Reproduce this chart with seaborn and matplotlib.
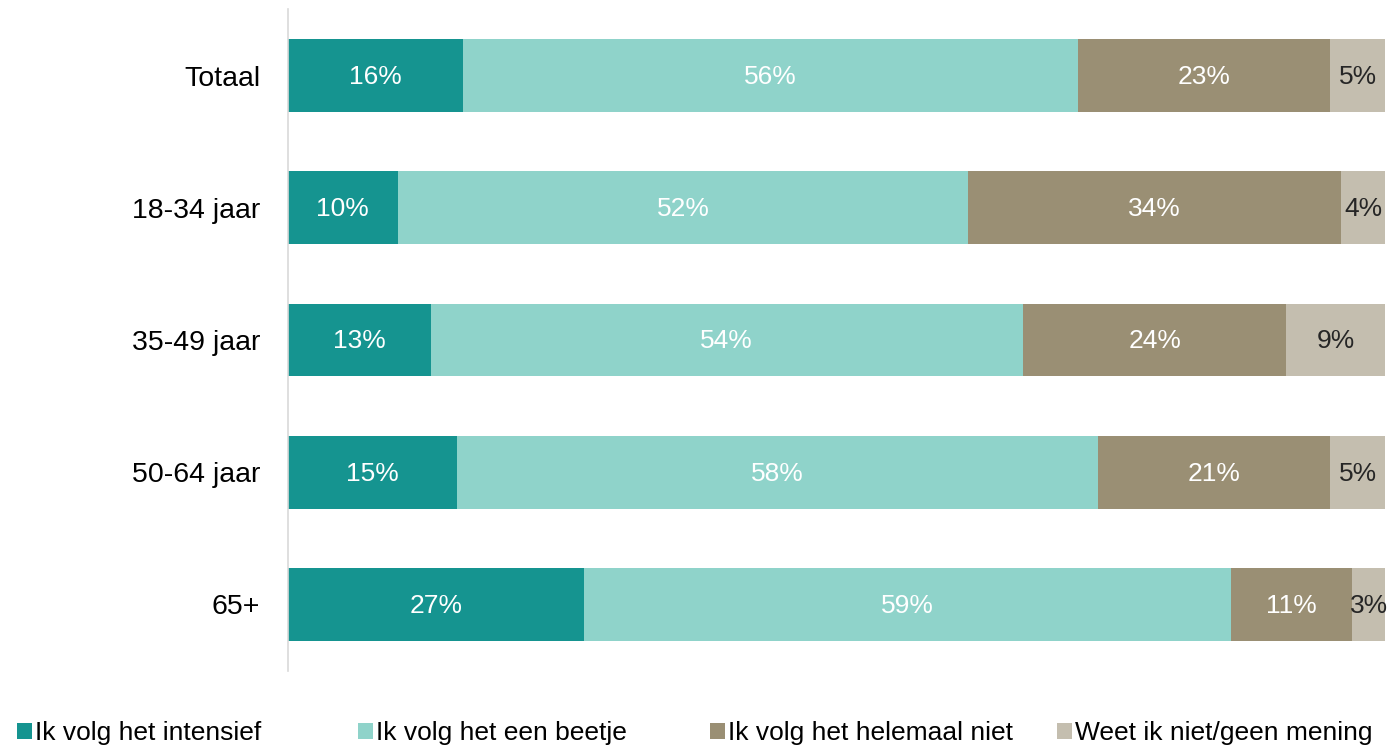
import pandas as pd
import numpy as np
import seaborn as sns
import matplotlib
import matplotlib.pyplot as plt
from matplotlib.patches import Patch

matplotlib.use("Agg")

groups = ["Totaal", "18-34 jaar", "35-49 jaar", "50-64 jaar", "65+"]
answers = [
  "Ik volg het intensief",
  "Ik volg het een beetje",
  "Ik volg het helemaal niet",
  "Weet ik niet/geen mening",
]
intensief = [16.0, 10.0, 13.0, 15.4, 27.0]
beetje = [56.0, 52.0, 54.0, 58.4, 59.0]
helemaal_niet = [23.0, 34.0, 24.0, 21.2, 11.0]
weet_niet = [5.0, 4.0, 9.0, 5.0, 3.0]

colors = ["#159490", "#8FD3CA", "#9A8F74", "#C4BEAF"]
text_colors = ["white", "white", "white", "#262626"]

sns.set_style("white")
plt.rcParams["font.family"] = ["Liberation Sans", "DejaVu Sans"]

df = pd.DataFrame(
  {"group": groups, answers[0]: intensief, answers[1]: beetje, answers[2]: helemaal_niet, answers[3]: weet_niet}
)
cum = df[answers].cumsum(axis=1)

fig = plt.figure(figsize=(13.87, 7.48), dpi=100)
ax = fig.add_axes([0.2076, 0.1036, 0.7910, 0.8837])

# stacked bars: draw the cumulative totals from widest to narrowest
for i in range(len(answers) - 1, -1, -1):
  sns.barplot(
    x=cum[answers[i]],
    y=df["group"],
    order=groups,
    orient="h",
    color=colors[i],
    saturation=1,
    width=0.55,
    linewidth=0,
    ax=ax,
  )

for i, ans in enumerate(answers):
  for j, g in enumerate(groups):
    v = df[ans].iloc[j]
    center = cum[ans].iloc[j] - v / 2
    ax.text(center, j + 0.01, f"{v:.0f}%", ha="center", va="center", fontsize=19, color=text_colors[i])

ax.set_xlim(0, 100)
ax.set_ylim(4.5, -0.5)
ax.set_xlabel("")
ax.set_ylabel("")
ax.set_xticks([])
ax.tick_params(axis="y", length=0, pad=20, labelsize=20.5, labelcolor="black")
for s in ["top", "right", "bottom"]:
  ax.spines[s].set_visible(False)
ax.spines["left"].set_color("#D9D9D9")
ax.spines["left"].set_linewidth(1.2)

# legend entries sit in fixed-width slots along the bottom
legend_x = [17, 358, 710, 1057]
for c, lab, lx in zip(colors, answers, legend_x):
  fig.legend(
    [Patch(facecolor=c, edgecolor="none")],
    [lab],
    loc="center left",
    bbox_to_anchor=(lx / 1387, 1 - 733 / 748),
    frameon=False,
    fontsize=19,
    labelcolor="black",
    borderpad=0,
    borderaxespad=0,
    handlelength=0.55,
    handleheight=0.55,
    handletextpad=0.15,
  )

fig.savefig("out.png", dpi=100)
